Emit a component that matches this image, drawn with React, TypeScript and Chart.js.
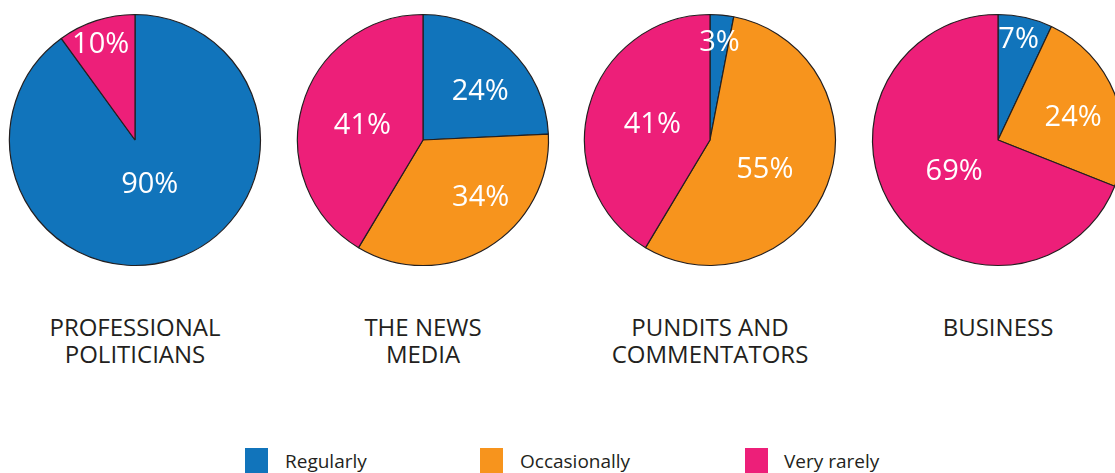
import React, { useEffect, useRef } from "react";
import { Chart, registerables } from "chart.js";

Chart.register(...registerables);

// ---- Data ----
const seriesLabels = ["Regularly", "Occasionally", "Very rarely"];
const categories = [
  ["PROFESSIONAL", "POLITICIANS"],
  ["THE NEWS", "MEDIA"],
  ["PUNDITS AND", "COMMENTATORS"],
  ["BUSINESS"],
];
const professionalPoliticians = [90, 0, 10];
const newsMedia = [24, 34, 41];
const punditsCommentators = [3, 55, 41];
const business = [7, 24, 69];
const pieValues = [professionalPoliticians, newsMedia, punditsCommentators, business];

// ---- Styles / layout ----
const COLORS = ["#1174BB", "#F7941D", "#ED1F79"];
const BORDER = "#231F20";
const FONT = "'Open Sans', 'Noto Sans', sans-serif";
const CENTERS_X = [135, 423, 710, 998];
const CENTER_Y = 140;
const CANVAS = 260;
const RADIUS = 125.5;
// label placement per slice: radius fraction and angular nudge (deg, clockwise)
const LABEL_PLACEMENT = [
  [{ f: 0.36, d: -1 }, { f: 0.5, d: 0 }, { f: 0.82, d: -1.5 }],
  [{ f: 0.61, d: 4.8 }, { f: 0.64, d: -15 }, { f: 0.5, d: -0.5 }],
  [{ f: 0.8, d: 0 }, { f: 0.49, d: 6 }, { f: 0.48, d: 1.3 }],
  [{ f: 0.83, d: -1.2 }, { f: 0.63, d: 3.5 }, { f: 0.42, d: 0.5 }],
];

const LEGEND_BOX_X = [245, 480, 745];
const LEGEND_TEXT_X = [285, 520, 784];

function Pie({ values, index }: { values: number[]; index: number }) {
  const ref = useRef<HTMLCanvasElement | null>(null);
  useEffect(() => {
    if (!ref.current) return;
    const placement = LABEL_PLACEMENT[index];
    const labelPlugin = {
      id: "sliceLabels",
      afterDatasetsDraw(chart: any) {
        const ctx = chart.ctx;
        const meta = chart.getDatasetMeta(0);
        const data = chart.data.datasets[0].data as number[];
        ctx.save();
        ctx.fillStyle = "#FFFFFF";
        ctx.font = `29px ${FONT}`;
        ctx.textAlign = "center";
        ctx.textBaseline = "alphabetic";
        meta.data.forEach((arc: any, i: number) => {
          if (!data[i]) return;
          const p = arc.getProps(["x", "y", "startAngle", "endAngle", "outerRadius"], true);
          const pl = placement[i];
          const a = (p.startAngle + p.endAngle) / 2 + (pl.d * Math.PI) / 180;
          const r = p.outerRadius * pl.f;
          const x = p.x + Math.cos(a) * r;
          const y = p.y + Math.sin(a) * r;
          ctx.fillText(`${data[i]}%`, x, y + 10.5);
        });
        ctx.restore();
      },
    };
    const chart = new Chart(ref.current, {
      type: "pie",
      data: {
        labels: seriesLabels,
        datasets: [
          {
            data: values,
            backgroundColor: COLORS,
            borderColor: BORDER,
            borderWidth: 1.2,
            radius: RADIUS,
          } as any,
        ],
      },
      options: {
        responsive: false,
        animation: false,
        devicePixelRatio: 1,
        layout: { padding: 0 },
        plugins: {
          legend: { display: false },
          tooltip: { enabled: false },
        },
        events: [],
      },
      plugins: [labelPlugin],
    });
    return () => chart.destroy();
  }, [values, index]);
  return (
    <canvas
      ref={ref}
      width={CANVAS}
      height={CANVAS}
      style={{
        position: "absolute",
        left: CENTERS_X[index] - CANVAS / 2,
        top: CENTER_Y - CANVAS / 2,
        width: CANVAS,
        height: CANVAS,
      }}
    />
  );
}

export default function App() {
  return (
    <div
      style={{
        position: "fixed",
        left: 0,
        top: 0,
        width: 1115,
        height: 473,
        overflow: "hidden",
        background: "#FFFFFF",
        fontFamily: FONT,
        color: BORDER,
      }}
    >
      {pieValues.map((v, i) => (
        <Pie key={i} values={v} index={i} />
      ))}
      {categories.map((lines, i) => (
        <div
          key={"c" + i}
          style={{
            position: "absolute",
            left: CENTERS_X[i] - 140,
            width: 280,
            top: 313,
            textAlign: "center",
            fontSize: 24,
            lineHeight: "27px",
            whiteSpace: "nowrap",
          }}
        >
          {lines.map((l, j) => (
            <div key={j}>{l}</div>
          ))}
        </div>
      ))}
      {seriesLabels.map((s, i) => (
        <React.Fragment key={"l" + i}>
          <div
            style={{
              position: "absolute",
              left: LEGEND_BOX_X[i],
              top: 448,
              width: 23,
              height: 30,
              background: COLORS[i],
            }}
          />
          <div
            style={{
              position: "absolute",
              left: LEGEND_TEXT_X[i],
              top: 452,
              fontSize: 19,
              lineHeight: "19px",
              whiteSpace: "nowrap",
            }}
          >
            {s}
          </div>
        </React.Fragment>
      ))}
    </div>
  );
}
